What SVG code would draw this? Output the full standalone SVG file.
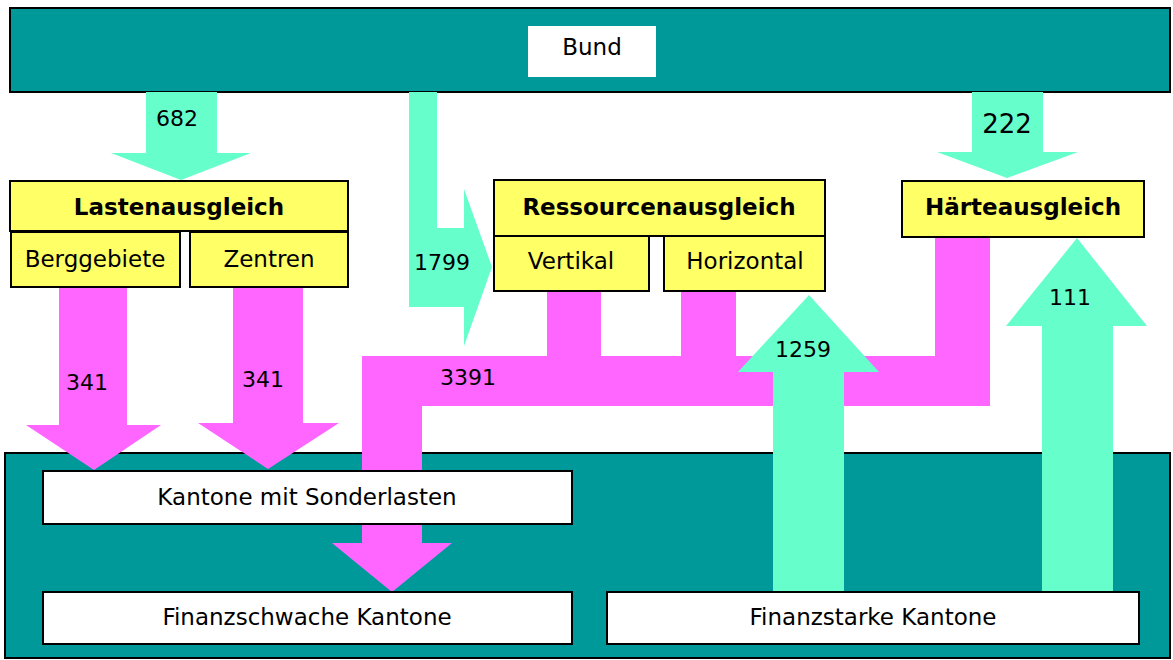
<svg xmlns="http://www.w3.org/2000/svg" width="1173" height="660" viewBox="0 0 1173 660">
<style>
.band{fill:#009999;stroke:#000;stroke-width:2}
.yel{fill:#FFFF66;stroke:#000;stroke-width:2}
.wht{fill:#FFFFFF;stroke:#000;stroke-width:2}
.up{fill:#66FFCC}
.mag{fill:#FF66FF}
text{font-family:"DejaVu Sans",Verdana,sans-serif;font-size:23px;fill:#000;text-anchor:middle}
.b{font-weight:bold}
.n{font-size:22px}
</style>
<rect width="1173" height="660" fill="#fff"/>
<g id="bund">
<rect class="band" x="10" y="8" width="1160" height="84"/>
<rect x="528" y="26" width="128" height="51" fill="#fff"/>
<text x="592" y="55">Bund</text>
</g>
<g id="kantone">
<rect class="band" x="5" y="453" width="1165" height="205"/>
</g>
<g id="connectors">
<polygon class="up" points="146,92 217,92 217,153 251,153 181,180 111,153 146,153"/>
<polygon class="up" points="972,92 1043,92 1043,152 1078,152 1007,178 937,152 972,152"/>
<polygon class="up" points="409,92 437,92 437,228 464,228 464,189 492,267 464,346 464,307 409,307"/>
<polygon class="mag" points="59,287 127,287 127,425 161,425 94,470 26,425 59,425"/>
<polygon class="mag" points="233,287 303,287 303,423 339,423 268,469 198,423 233,423"/>
<polygon class="mag" points="362,356 547,356 547,291 601,291 601,356 681,356 681,291 736,291 736,356 935,356 935,237 990,237 990,406 422,406 422,543 452,543 392,592 332,543 362,543"/>
<polygon class="up" points="809,295 879,372 844,372 844,592 773,592 773,372 738,372"/>
<polygon class="up" points="1077,238 1147,326 1113,326 1113,592 1042,592 1042,326 1006,326"/>
<text class="n" x="177" y="126">682</text>
<text x="1007" y="133" style="font-size:26px">222</text>
<text class="n" x="442" y="270">1799</text>
<text class="n" x="87" y="390">341</text>
<text class="n" x="263" y="387">341</text>
<text class="n" x="468" y="385">3391</text>
<text class="n" x="803" y="357">1259</text>
<text class="n" x="1070" y="305">111</text>
</g>
<g id="lastenausgleich">
<rect class="yel" x="10" y="181" width="338" height="50"/>
<text class="b" x="179" y="215">Lastenausgleich</text>
</g>
<g id="berggebiete">
<rect class="yel" x="11" y="232" width="169" height="55"/>
<text x="95" y="267">Berggebiete</text>
</g>
<g id="zentren">
<rect class="yel" x="190" y="232" width="158" height="55"/>
<text x="269" y="267">Zentren</text>
</g>
<g id="ressourcenausgleich">
<rect class="yel" x="494" y="180" width="331" height="56"/>
<text class="b" x="659" y="215">Ressourcenausgleich</text>
</g>
<g id="vertikal">
<rect class="yel" x="494" y="236" width="155" height="55"/>
<text x="571" y="269">Vertikal</text>
</g>
<g id="horizontal">
<rect class="yel" x="664" y="236" width="161" height="55"/>
<text x="745" y="269">Horizontal</text>
</g>
<g id="haerteausgleich">
<rect class="yel" x="902" y="181" width="242" height="56"/>
<text class="b" x="1023" y="215">Härteausgleich</text>
</g>
<g id="sonderlasten">
<rect class="wht" x="43" y="471" width="529" height="53"/>
<text x="307" y="505">Kantone mit Sonderlasten</text>
</g>
<g id="finanzschwach">
<rect class="wht" x="43" y="592" width="529" height="52"/>
<text x="307" y="625">Finanzschwache Kantone</text>
</g>
<g id="finanzstark">
<rect class="wht" x="607" y="592" width="532" height="52"/>
<text x="873" y="625">Finanzstarke Kantone</text>
</g>
</svg>
